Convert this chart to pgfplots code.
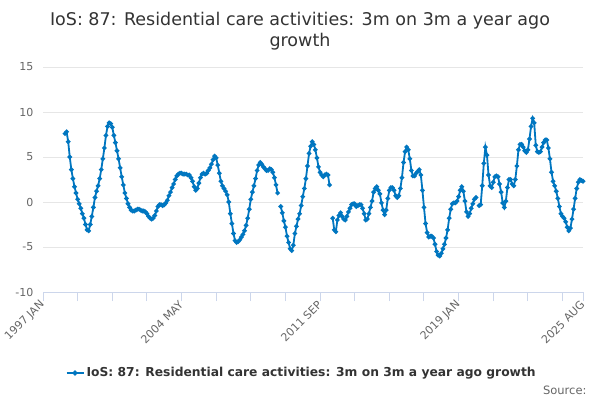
\documentclass[border=0pt]{standalone}
\usepackage{pgfplots}
\pgfplotsset{compat=1.18}
\usepackage{fontspec}
\setmainfont{DejaVu Sans}
\definecolor{serblue}{RGB}{0,118,192}
\definecolor{gridc}{RGB}{230,230,230}
\definecolor{axisc}{RGB}{204,214,235}
\definecolor{labc}{RGB}{102,102,102}
\definecolor{titc}{RGB}{51,51,51}
\begin{document}
\begin{tikzpicture}[x=1pt,y=1pt]
\path[use as bounding box, fill=white] (0,0) rectangle (600,400);
\node[align=center, text=titc, font=\fontsize{17.5}{21}\selectfont] at (300,369) {IoS: 87: Residential care activities: 3m on 3m a year ago\\growth};
\node[anchor=base east, text=labc, font=\fontsize{11.5}{13}\selectfont] at (590,6) {Source:};
\begin{axis}[
  at={(43pt,108pt)}, anchor=south west,
  scale only axis, width=540pt, height=225pt,
  xmin=0, xmax=343, ymin=-10, ymax=15,
  ytick={-10,-5,0,5,10,15},
  xtick={0,22,44,66,88,110,132,154,176,198,220,242,264,286,308,330,343},
  xticklabels={1997 JAN,,,,2004 MAY,,,,2011 SEP,,,,2019 JAN,,,,2025 AUG},
  axis y line*=left, axis x line*=bottom,
  y axis line style={draw=none},
  x axis line style={draw=axisc, line width=1pt},
  ymajorgrids, grid style={gridc, line width=1pt},
  major y tick style={draw=none},
  major x tick style={draw=axisc, line width=1pt},
  tick align=outside, major tick length=9pt,
  /pgf/number format/assume math mode=true,
  yticklabel style={text=labc, font=\fontsize{11}{13}\selectfont, xshift=3pt},
  xticklabel style={text=labc, font=\fontsize{11}{13}\selectfont, rotate=45, anchor=east, xshift=2pt, yshift=-1pt},
  unbounded coords=jump,
  legend style={at={(0.479,-0.36)}, anchor=center, draw=none, fill=none,
    font=\fontsize{12.3}{14}\selectfont\bfseries, text=titc},
  legend image code/.code={
    \draw[serblue, line width=2pt] (0pt,0pt) -- (17pt,0pt);
    \fill[serblue] (8.5pt,0pt) circle (1.6pt);
  },
  clip=false,
]
\addplot[serblue, line width=1.8pt, mark=*, mark size=1.3pt, mark options={serblue, fill=serblue}] table[row sep=\\] {
x y\\
14 7.6\\ 15 7.8\\ 16 6.7\\ 17 5.0\\ 18 3.6\\ 19 2.6\\ 20 1.7\\ 21 1.0\\ 22 0.3\\ 23 -0.2\\
24 -0.7\\ 25 -1.3\\ 26 -1.8\\ 27 -2.5\\ 28 -3.1\\ 29 -3.2\\ 30 -2.5\\ 31 -1.6\\ 32 -0.6\\ 33 0.5\\
34 1.2\\ 35 1.8\\ 36 2.6\\ 37 3.6\\ 38 4.8\\ 39 6.0\\ 40 7.4\\ 41 8.4\\ 42 8.8\\ 43 8.7\\
44 8.3\\ 45 7.4\\ 46 6.6\\ 47 5.7\\ 48 4.8\\ 49 3.8\\ 50 2.8\\ 51 1.9\\ 52 1.0\\ 53 0.4\\
54 -0.2\\ 55 -0.6\\ 56 -0.9\\ 57 -1.0\\ 58 -1.0\\ 59 -0.9\\ 60 -0.8\\ 61 -0.8\\ 62 -0.9\\ 63 -1.0\\
64 -1.0\\ 65 -1.1\\ 66 -1.3\\ 67 -1.6\\ 68 -1.8\\ 69 -1.9\\ 70 -1.8\\ 71 -1.5\\ 72 -1.0\\ 73 -0.5\\
74 -0.3\\ 75 -0.3\\ 76 -0.4\\ 77 -0.3\\ 78 -0.1\\ 79 0.2\\ 80 0.7\\ 81 1.1\\ 82 1.6\\ 83 2.0\\
84 2.5\\ 85 2.9\\ 86 3.1\\ 87 3.2\\ 88 3.2\\ 89 3.1\\ 90 3.1\\ 91 3.1\\ 92 3.0\\ 93 3.0\\
94 2.7\\ 95 2.3\\ 96 1.7\\ 97 1.3\\ 98 1.5\\ 99 2.1\\ 100 2.7\\ 101 3.1\\ 102 3.2\\ 103 3.1\\
104 3.2\\ 105 3.5\\ 106 3.8\\ 107 4.2\\ 108 4.7\\ 109 5.1\\ 110 4.9\\ 111 4.1\\ 112 3.2\\ 113 2.3\\
114 1.8\\ 115 1.5\\ 116 1.2\\ 117 0.8\\ 118 0.0\\ 119 -1.3\\ 120 -2.4\\ 121 -3.5\\ 122 -4.3\\ 123 -4.5\\
124 -4.4\\ 125 -4.2\\ 126 -3.9\\ 127 -3.6\\ 128 -3.2\\ 129 -2.6\\ 130 -1.8\\ 131 -0.8\\ 132 0.3\\ 133 1.1\\
134 1.8\\ 135 2.6\\ 136 3.5\\ 137 4.1\\ 138 4.4\\ 139 4.2\\ 140 3.9\\ 141 3.7\\ 142 3.5\\ 143 3.5\\
144 3.7\\ 145 3.6\\ 146 3.3\\ 147 2.7\\ 148 1.9\\ 149 1.0\\ 150 nan\\ 151 -0.5\\ 152 -1.2\\ 153 -2.1\\
154 -2.8\\ 155 -3.8\\ 156 -4.5\\ 157 -5.2\\ 158 -5.4\\ 159 -4.8\\ 160 -3.5\\ 161 -2.7\\ 162 -1.9\\ 163 -1.3\\
164 -0.4\\ 165 0.6\\ 166 1.5\\ 167 2.6\\ 168 4.0\\ 169 5.4\\ 170 6.2\\ 171 6.7\\ 172 6.4\\ 173 5.8\\
174 4.9\\ 175 3.9\\ 176 3.3\\ 177 3.0\\ 178 2.8\\ 179 3.0\\ 180 3.1\\ 181 3.0\\ 182 1.9\\ 183 nan\\
184 -1.8\\ 185 -3.1\\ 186 -3.3\\ 187 -2.0\\ 188 -1.5\\ 189 -1.2\\ 190 -1.6\\ 191 -1.9\\ 192 -2.0\\ 193 -1.6\\
194 -1.1\\ 195 -0.7\\ 196 -0.3\\ 197 -0.2\\ 198 -0.2\\ 199 -0.5\\ 200 -0.4\\ 201 -0.3\\ 202 -0.3\\ 203 -0.7\\
204 -1.3\\ 205 -2.0\\ 206 -1.9\\ 207 -1.3\\ 208 -0.6\\ 209 0.1\\ 210 1.1\\ 211 1.5\\ 212 1.7\\ 213 1.3\\
214 0.9\\ 215 -0.1\\ 216 -0.9\\ 217 -1.4\\ 218 -0.9\\ 219 0.4\\ 220 1.3\\ 221 1.6\\ 222 1.6\\ 223 1.3\\
224 0.7\\ 225 0.5\\ 226 0.7\\ 227 1.5\\ 228 2.7\\ 229 4.4\\ 230 5.6\\ 231 6.1\\ 232 5.8\\ 233 4.8\\
234 3.5\\ 235 2.9\\ 236 2.9\\ 237 3.2\\ 238 3.4\\ 239 3.6\\ 240 3.0\\ 241 1.3\\ 242 -0.6\\ 243 -2.4\\
244 -3.4\\ 245 -3.9\\ 246 -3.8\\ 247 -3.8\\ 248 -4.0\\ 249 -4.7\\ 250 -5.5\\ 251 -5.9\\ 252 -6.0\\ 253 -5.7\\
254 -5.2\\ 255 -4.7\\ 256 -4.0\\ 257 -3.1\\ 258 -1.8\\ 259 -0.8\\ 260 -0.2\\ 261 -0.1\\ 262 -0.1\\ 263 0.1\\
264 0.6\\ 265 1.3\\ 266 1.7\\ 267 1.2\\ 268 0.1\\ 269 -1.1\\ 270 -1.6\\ 271 -1.3\\ 272 -0.7\\ 273 -0.2\\
274 0.3\\ 275 0.5\\ 276 nan\\ 277 -0.4\\ 278 -0.3\\ 279 1.8\\ 280 4.3\\ 281 6.1\\ 282 5.2\\ 283 3.0\\
284 1.8\\ 285 1.6\\ 286 2.2\\ 287 2.8\\ 288 2.9\\ 289 2.8\\ 290 2.0\\ 291 1.1\\ 292 -0.1\\ 293 -0.6\\
294 0.1\\ 295 1.6\\ 296 2.5\\ 297 2.5\\ 298 2.0\\ 299 1.8\\ 300 2.5\\ 301 4.0\\ 302 5.8\\ 303 6.4\\
304 6.4\\ 305 6.1\\ 306 5.7\\ 307 5.5\\ 308 5.8\\ 309 7.0\\ 310 8.4\\ 311 9.3\\ 312 8.8\\ 313 6.3\\
314 5.6\\ 315 5.5\\ 316 5.6\\ 317 6.1\\ 318 6.6\\ 319 6.9\\ 320 6.9\\ 321 6.0\\ 322 4.8\\ 323 3.3\\
324 2.3\\ 325 1.8\\ 326 1.2\\ 327 0.4\\ 328 -0.5\\ 329 -1.3\\ 330 -1.6\\ 331 -1.8\\ 332 -2.2\\ 333 -2.8\\
334 -3.2\\ 335 -2.9\\ 336 -1.9\\ 337 -0.8\\ 338 0.4\\ 339 1.5\\ 340 2.2\\ 341 2.5\\ 342 2.4\\ 343 2.3\\
};
\addlegendentry{IoS: 87: Residential care activities: 3m on 3m a year ago growth}
\end{axis}
\end{tikzpicture}
\end{document}
